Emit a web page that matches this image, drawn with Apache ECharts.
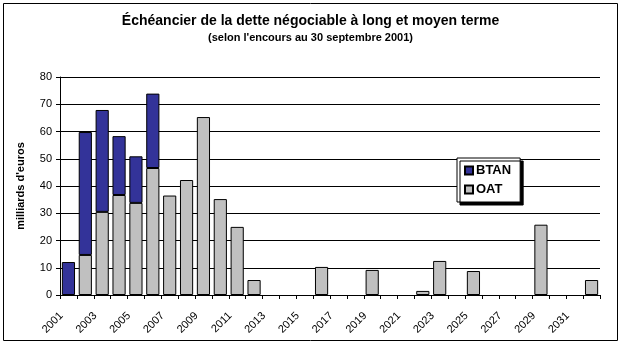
<!DOCTYPE html>
<html><head><meta charset="utf-8">
<script src="https://cdn.jsdelivr.net/npm/echarts@6/dist/echarts.min.js"></script>
<style>html,body{margin:0;padding:0;background:#fff}#c{width:621px;height:352px}</style>
</head><body><div id="c"></div>
<script>
const years = ['2001','2002','2003','2004','2005','2006','2007','2008','2009','2010','2011','2012','2013','2014','2015','2016','2017','2018','2019','2020','2021','2022','2023','2024','2025','2026','2027','2028','2029','2030','2031','2032'];
const oat  = [null,14.7,30.5,36.7,33.8,46.6,36.5,42.2,65.3,35.2,25.0,5.5,null,null,null,10.3,null,null,9.2,null,null,1.5,12.5,null,8.8,null,null,null,25.8,null,null,5.5];
const btan = [12.1,45.1,37.4,21.6,17.1,27.3,null,null,null,null,null,null,null,null,null,null,null,null,null,null,null,null,null,null,null,null,null,null,null,null,null,null];
const yTicks = [0,10,20,30,40,50,60,70,80];

const chart = echarts.init(document.getElementById('c'), null, {renderer:'canvas'});
const ff = 'Liberation Sans, Arial, sans-serif';
chart.setOption({
  animation:false,
  graphic:[{type:'rect',shape:{x:3.5,y:3.5,width:614,height:337},style:{fill:null,stroke:'#000',lineWidth:1},z:-1}],
  title:{
    text:'Échéancier de la dette négociable à long et moyen terme',
    subtext:"(selon l'encours au 30 septembre 2001)",
    left:'center', top:9, itemGap:4,
    textStyle:{fontFamily:ff,fontWeight:'bold',fontSize:14,color:'#000'},
    subtextStyle:{fontFamily:ff,fontWeight:'bold',fontSize:11,color:'#000'}
  },
  legend:{
    data:['BTAN','OAT'], orient:'vertical', left:457, top:158,
    itemWidth:8, itemHeight:8, itemGap:6, padding:[6,9,6,7],
    backgroundColor:'#fff', borderColor:'#000', borderWidth:1,
    shadowColor:'#000', shadowBlur:0, shadowOffsetX:3, shadowOffsetY:3,
    textStyle:{fontFamily:ff,fontWeight:'bold',fontSize:13,color:'#000',padding:[0,0,0,-2]},
    icon:'rect'
  },
  grid:{left:60,right:21,top:77,bottom:57,containLabel:false},
  xAxis:{
    type:'category', data:years,
    axisLine:{lineStyle:{color:'#000',width:1}},
    axisTick:{show:true,interval:0,length:4,lineStyle:{color:'#000'}},
    axisLabel:{interval:1,rotate:45,fontFamily:ff,fontSize:11,color:'#000',margin:12,padding:[0,10,0,0]}
  },
  yAxis:{
    type:'value', min:yTicks[0], max:yTicks[yTicks.length-1], interval:10,
    name:"milliards d'euros", nameLocation:'middle', nameGap:34, nameRotate:90,
    nameTextStyle:{fontFamily:ff,fontWeight:'bold',fontSize:11,color:'#000'},
    axisLine:{show:true,lineStyle:{color:'#000'}},
    axisTick:{show:true,length:4,lineStyle:{color:'#000'}},
    axisLabel:{fontFamily:ff,fontSize:11,color:'#000',margin:8},
    splitLine:{lineStyle:{color:'#000',width:1}}
  },
  series:[
    {name:'OAT',type:'bar',stack:'s',data:oat,barCategoryGap:'22%',
     itemStyle:{color:'#C0C0C0',borderColor:'#000',borderWidth:1}},
    {name:'BTAN',type:'bar',stack:'s',data:btan,barCategoryGap:'22%',
     itemStyle:{color:'#333399',borderColor:'#000',borderWidth:1}}
  ]
});
</script></body></html>
